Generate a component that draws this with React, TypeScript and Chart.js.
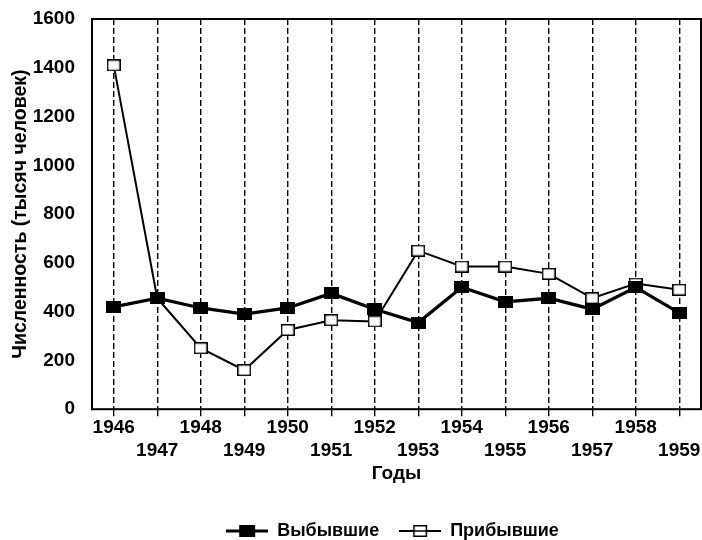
import React, { useEffect, useRef } from "react";
import { Chart, registerables } from "chart.js";

Chart.register(...registerables);

const years = ["1946", "1947", "1948", "1949", "1950", "1951", "1952", "1953", "1954", "1955", "1956", "1957", "1958", "1959"];
const departed = [420, 455, 415, 390, 415, 475, 410, 355, 500, 440, 455, 410, 500, 395];
const arrived = [1410, 455, 250, 160, 325, 365, 360, 650, 585, 585, 555, 455, 515, 490];
const yMin = 0;
const yMax = 1600;
const yStep = 200;
const seriesNames = ["Выбывшие", "Прибывшие"];
const yTitle = "Численность (тысяч человек)";
const xTitle = "Годы";

function makeMarker(filled: boolean): HTMLCanvasElement {
  const c = document.createElement("canvas");
  c.width = filled ? 15 : 14;
  c.height = 12;
  const ctx = c.getContext("2d")!;
  if (filled) {
    ctx.fillStyle = "#000";
    ctx.fillRect(0, 0, 15, 12);
  } else {
    ctx.fillStyle = "#fff";
    ctx.fillRect(0, 0, 14, 12);
    ctx.strokeStyle = "#000";
    ctx.lineWidth = 1.5;
    ctx.strokeRect(0.75, 0.75, 12.5, 10.5);
  }
  return c;
}

function makeIcon(filled: boolean): HTMLCanvasElement {
  const c = document.createElement("canvas");
  c.width = 42;
  c.height = 16;
  const ctx = c.getContext("2d")!;
  ctx.strokeStyle = "#000";
  ctx.lineWidth = filled ? 3 : 1.8;
  ctx.beginPath();
  ctx.moveTo(0, 8);
  ctx.lineTo(42, 8);
  ctx.stroke();
  if (filled) {
    ctx.fillStyle = "#000";
    ctx.fillRect(13, 2, 16, 12);
  } else {
    ctx.fillStyle = "#fff";
    ctx.fillRect(14, 2, 14, 12);
    ctx.lineWidth = 1.5;
    ctx.strokeRect(14.75, 2.75, 12.5, 10.5);
    ctx.beginPath();
    ctx.moveTo(14, 8);
    ctx.lineTo(28, 8);
    ctx.stroke();
  }
  return c;
}

const frame = {
  id: "frame",
  afterDatasetsDraw(chart: any) {
    const { ctx, chartArea } = chart;
    ctx.save();
    ctx.strokeStyle = "#000";
    ctx.lineWidth = 2;
    ctx.strokeRect(chartArea.left, chartArea.top, chartArea.right - chartArea.left, chartArea.bottom - chartArea.top);
    ctx.restore();
  },
  afterLayout(chart: any) {
    if (chart.legend) {
      chart.legend.left += 42;
      chart.legend.right += 42;
      chart.legend.top += 17;
      chart.legend.bottom += 17;
    }
  },
};

export default function App() {
  const ref = useRef<HTMLCanvasElement | null>(null);
  useEffect(() => {
    document.body.style.margin = "0";
    Chart.defaults.font.family = "'Liberation Sans', Arial, sans-serif";
    Chart.defaults.color = "#000";
    const icons = [makeIcon(true), makeIcon(false)];
    const chart = new Chart(ref.current!, {
      type: "line",
      data: {
        labels: years,
        datasets: [
          {
            label: seriesNames[0],
            data: departed,
            borderColor: "#000",
            backgroundColor: "#000",
            borderWidth: 3.3,
            pointStyle: makeMarker(true),
            pointRadius: 1,
            pointHoverRadius: 1,
            pointBorderWidth: 0,
            tension: 0,
          },
          {
            label: seriesNames[1],
            data: arrived,
            borderColor: "#000",
            backgroundColor: "#fff",
            borderWidth: 2,
            pointStyle: makeMarker(false),
            pointRadius: 1,
            pointHoverRadius: 1,
            pointBorderWidth: 0,
            tension: 0,
          },
        ],
      },
      options: {
        animation: false,
        responsive: false,
        maintainAspectRatio: false,
        layout: { padding: { top: 19, right: 1, left: 0, bottom: 7 } },
        scales: {
          x: {
            type: "category",
            offset: true,
            grid: {
              display: true,
              offset: false,
              color: "#000",
              lineWidth: 1.4,
              tickLength: 7,
              drawTicks: true,
              tickWidth: 1.4,
              tickColor: "#000",
            },
            border: { display: false, dash: [6, 3] } as any,
            ticks: {
              autoSkip: false,
              maxRotation: 0,
              padding: 0,
              font: { size: 19, weight: "bold", lineHeight: "23px" },
              callback: function (this: any, _v: any, i: number) {
                const l = years[i];
                return i % 2 === 0 ? [l, ""] : ["", l];
              },
            },
            title: {
              display: true,
              text: xTitle,
              font: { size: 19, weight: "bold" },
              padding: { top: 0, bottom: 0 },
            },
            afterFit(scale: any) {
              scale.paddingLeft = 0;
              scale.paddingRight = 0;
            },
          },
          y: {
            min: yMin,
            max: yMax,
            grid: { display: false, drawTicks: false },
            border: { display: false },
            ticks: {
              stepSize: yStep,
              padding: 17,
              font: { size: 19, weight: "bold" },
              callback: (v: any) => String(v),
            },
            title: {
              display: true,
              text: yTitle,
              font: { size: 19.5, weight: "bold" },
              padding: { top: 9, bottom: 0 },
            },
            afterFit(scale: any) {
              scale.width = 92;
              scale.paddingTop = 0;
              scale.paddingBottom = 0;
            },
          },
        },
        plugins: {
          tooltip: { enabled: false },
          legend: {
            position: "bottom",
            labels: {
              usePointStyle: true,
              pointStyleWidth: 42,
              padding: 20,
              font: { size: 18, weight: "bold" },
              color: "#000",
              generateLabels(chart: any) {
                const base = Chart.defaults.plugins.legend.labels.generateLabels(chart);
                return base.map((l: any, i: number) => ({ ...l, pointStyle: icons[i] }));
              },
            },
          },
        },
      },
      plugins: [frame],
    });
    return () => chart.destroy();
  }, []);
  return (
    <div style={{ width: 702, height: 540 }}>
      <canvas ref={ref} width={702} height={540} style={{ display: "block" }} />
    </div>
  );
}
